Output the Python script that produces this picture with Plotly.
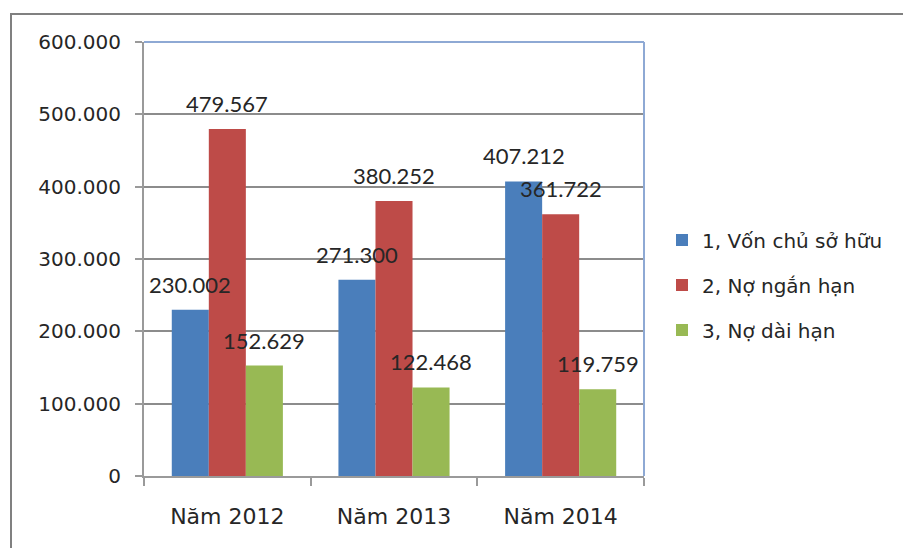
import plotly.graph_objects as go

# Capital structure by year (values in million VND)
years = ["Năm 2012", "Năm 2013", "Năm 2014"]
series_names = ["1, Vốn chủ sở hữu", "2, Nợ ngắn hạn", "3, Nợ dài hạn"]
von_chu_so_huu = [230002, 271300, 407212]
no_ngan_han = [479567, 380252, 361722]
no_dai_han = [152629, 122468, 119759]
series_values = [von_chu_so_huu, no_ngan_han, no_dai_han]
colors = ["#4A7EBB", "#BE4B48", "#98B954"]

W, H = 903, 548
ML, MR, MT, MB = 144, 259, 42, 72
plot_w = W - ML - MR
bargap = 1 / 3

fig = go.Figure()
for i, (name, vals) in enumerate(zip(series_names, series_values)):
    fig.add_trace(go.Bar(
        x=years, y=vals, name=name, marker_color=colors[i],
        marker_line_width=0, legendgroup=f"g{i}",
    ))

# value labels above each bar (centered on the bar)
bar_px = plot_w / len(years) * (1 - bargap) / len(series_values)
fmt = lambda v: f"{v:,}".replace(",", ".")
for i, vals in enumerate(series_values):
    for yr, v in zip(years, vals):
        fig.add_annotation(
            x=yr, y=v, text=fmt(v), showarrow=False,
            xshift=(i - 1) * bar_px, yanchor="bottom", yshift=10,
            font=dict(family="Lato", size=22, color="#262626"),
        )

# blue top/right frame of the plot area
blue = "#8EA9D4"
fig.add_shape(type="line", xref="paper", yref="paper", x0=0, x1=1, y0=1, y1=1,
              line=dict(color=blue, width=2))
fig.add_shape(type="line", xref="paper", yref="paper", x0=1, x1=1, y0=0, y1=1,
              line=dict(color=blue, width=2))

# outer chart border
def px_to_paper_x(px):
    return (px - ML) / plot_w

def px_to_paper_y(py):
    return (H - MB - py) / (H - MT - MB)

fig.add_shape(type="rect", xref="paper", yref="paper",
              x0=px_to_paper_x(11), x1=px_to_paper_x(910),
              y0=px_to_paper_y(560), y1=px_to_paper_y(14),
              line=dict(color="#808080", width=2), layer="below")

fig.update_layout(
    width=W, height=H,
    margin=dict(l=ML, r=MR, t=MT, b=MB),
    paper_bgcolor="white", plot_bgcolor="white",
    barmode="group", bargap=bargap, bargroupgap=0,
    separators=",.",
    showlegend=True,
    legend=dict(
        x=1.036, xanchor="left", y=0.44, yanchor="middle",
        font=dict(family="DejaVu Sans", size=20, color="#262626"),
        tracegroupgap=16, itemwidth=30,
    ),
    xaxis=dict(
        showline=True, linecolor="#9A9A9A", linewidth=2,
        ticks="outside", tickson="boundaries", ticklen=8, tickcolor="#9A9A9A",
        tickwidth=2, showgrid=False, ticklabelstandoff=20,
        tickfont=dict(family="DejaVu Sans", size=22, color="#262626"),
    ),
    yaxis=dict(
        range=[0, 600000], dtick=100000, tickformat=",d",
        showline=True, linecolor="#9A9A9A", linewidth=2,
        ticks="outside", ticklen=7, tickcolor="#9A9A9A", tickwidth=2,
        showgrid=True, gridcolor="#8C8C8C", gridwidth=1.5,
        zeroline=False, ticklabelstandoff=10,
        tickfont=dict(family="DejaVu Sans", size=20, color="#262626"),
    ),
)

fig.write_html("out.html")
